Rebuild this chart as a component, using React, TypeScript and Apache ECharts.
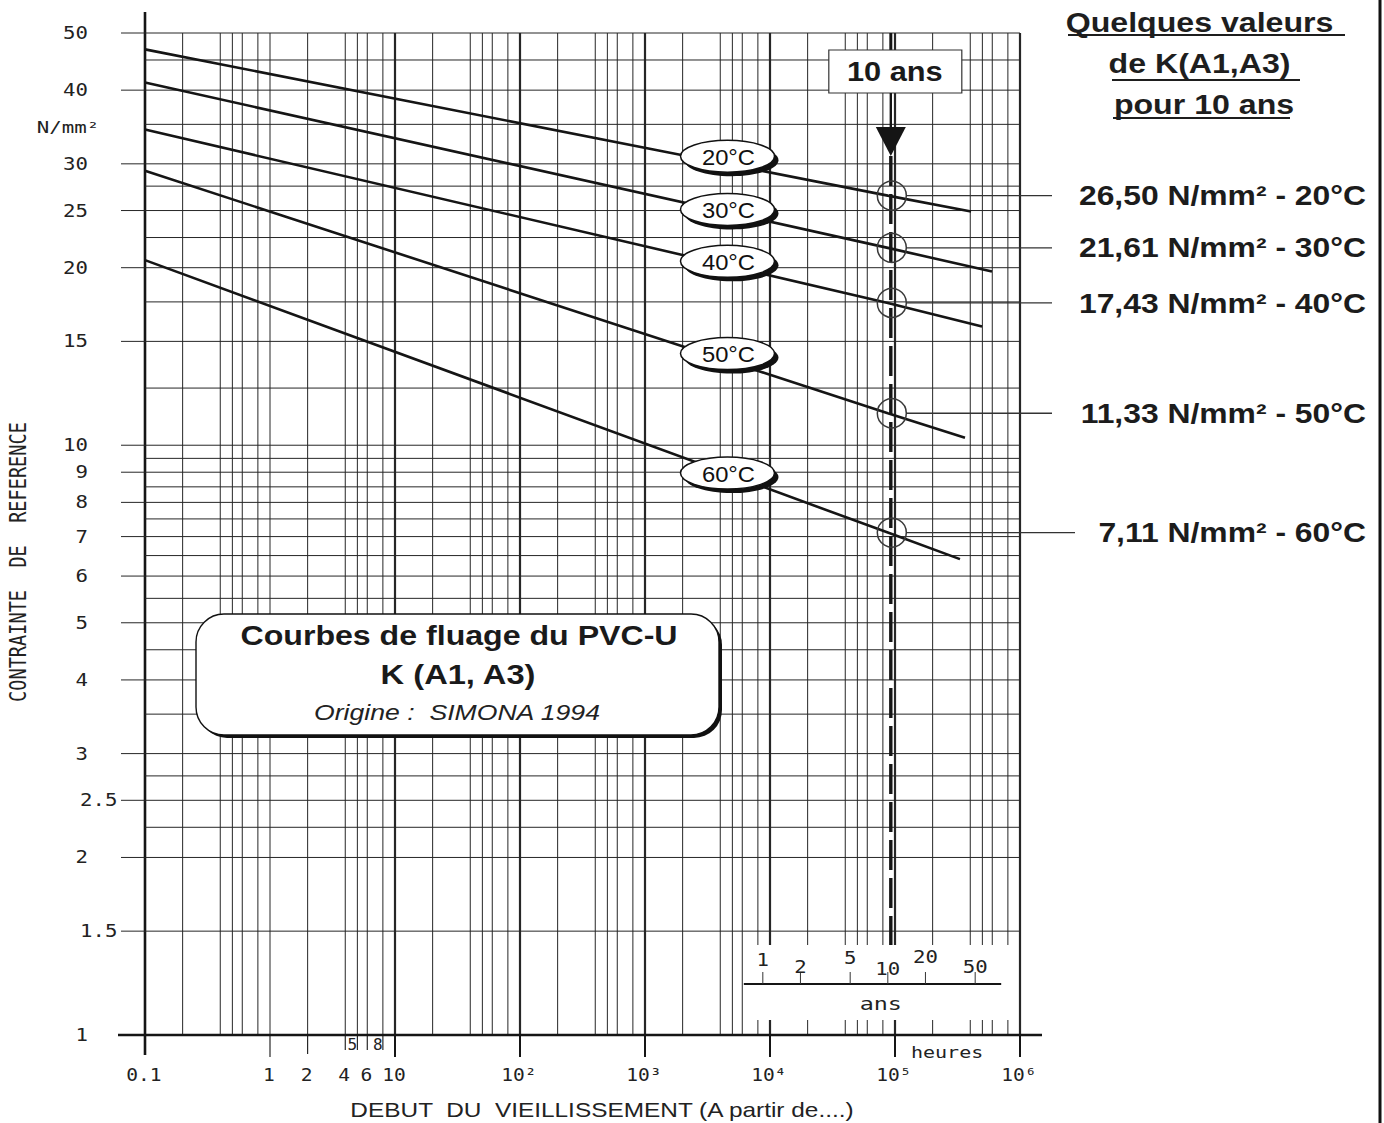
import React, { useEffect, useRef } from 'react';
import * as echarts from 'echarts';

// ---------------- Data ----------------
const xGrid = [0.1, 0.2, 0.4, 0.5, 0.6, 0.8, 1, 2, 4, 5, 6, 8, 10, 20, 40, 50, 60, 80, 100, 200, 400, 500, 600, 800, 1000, 2000, 4000, 5000, 6000, 8000, 10000, 20000, 40000, 50000, 60000, 80000, 100000, 200000, 400000, 500000, 600000, 800000, 1000000];
const xMajor = [10, 100, 1000, 10000, 100000, 1000000];
const xDecadeTicks = [0.1, 1, 10, 100, 1000, 10000, 100000, 1000000];
const xMidTicks = [2];
const xSmallTicks = [4, 5, 6, 8];
const xLabelValues = [0.1, 1, 2, 4, 6, 10, 100, 1000, 10000, 100000, 1000000];
const xLabelTexts = ['0.1', '1', '2', '4', '6', '10', '10²', '10³', '10⁴', '10⁵', '10⁶'];
const xBoxedValues = [5, 8];
const xBoxedTexts = ['5', '8'];

const yGrid = [1, 1.5, 2, 2.25, 2.5, 2.75, 3, 3.5, 4, 4.5, 5, 5.5, 6, 6.5, 7, 7.5, 8, 8.5, 9, 9.5, 10, 12.5, 15, 17.5, 20, 22.5, 25, 27.5, 30, 35, 40, 45, 50];
const yLabelValues = [1, 1.5, 2, 2.5, 3, 4, 5, 6, 7, 8, 9, 10, 15, 20, 25, 30, 40, 50];
const yLabelTexts = ['1', '1.5', '2', '2.5', '3', '4', '5', '6', '7', '8', '9', '10', '15', '20', '25', '30', '40', '50'];

const temperatures = ['20°C', '30°C', '40°C', '50°C', '60°C'];
const curve20 = [[0.1, 46.9], [87600, 26.5], [406000, 24.9]];
const curve30 = [[0.1, 41.2], [87600, 21.61], [597000, 19.7]];
const curve40 = [[0.1, 34.3], [87600, 17.43], [497000, 15.9]];
const curve50 = [[0.1, 29.2], [87600, 11.33], [363000, 10.3]];
const curve60 = [[0.1, 20.6], [87600, 7.11], [331000, 6.41]];
const curves = [curve20, curve30, curve40, curve50, curve60];

const labelTime = 4570;
const labelStress = [30.9, 25.1, 20.5, 14.3, 8.97];

const tenYearsHours = 87600;
const kValues = [26.5, 21.61, 17.43, 11.33, 7.11];
const kTexts = ['26,50 N/mm² - 20°C', '21,61 N/mm² - 30°C', '17,43 N/mm² - 40°C', '11,33 N/mm² - 50°C', '7,11 N/mm² - 60°C'];

const yearTicks = [1, 2, 5, 10, 20, 50];
const yearTexts = ['1', '2', '5', '10', '20', '50'];
const HOURS_PER_YEAR = 8760;

// ---------------- Layout / style constants ----------------
const INK = '#151515';
const MONO = '"DejaVu Sans Mono", "Liberation Mono", monospace';
const SANS = '"Liberation Sans", Arial, sans-serif';
const STRETCH = 1.19;
const yearLabelDy = [-24, -17, -26, -15, -27, -17];
const leaderEnd = [1052, 1052, 1052, 1052, 1075];

export default function App() {
  const ref = useRef<HTMLDivElement>(null);
  useEffect(() => {
    if (!ref.current) return;
    const chart = echarts.init(ref.current, undefined, { renderer: 'svg' });

    const verticalGrid = {
      type: 'custom', z: 1, silent: true, clip: false,
      data: xGrid.map((v) => [v, 1]),
      renderItem: (params: any, api: any) => {
        const t = api.value(0);
        const b = api.coord([t, 1]);
        const tp = api.coord([t, 50]);
        const children: any[] = [];
        if (t === 0.1) {
          children.push({ type: 'line', shape: { x1: b[0], y1: tp[1] - 21, x2: b[0], y2: b[1] + 20 }, style: { stroke: INK, lineWidth: 2.6 } });
        } else {
          const major = xMajor.indexOf(t) >= 0;
          children.push({ type: 'line', shape: { x1: b[0], y1: b[1], x2: b[0], y2: tp[1] }, style: { stroke: '#262626', lineWidth: major ? 2.2 : 1 } });
          let len = 0;
          if (xDecadeTicks.indexOf(t) >= 0) len = 22;
          else if (xMidTicks.indexOf(t) >= 0) len = 19;
          else if (xSmallTicks.indexOf(t) >= 0) len = 15;
          if (len) children.push({ type: 'line', shape: { x1: b[0], y1: b[1], x2: b[0], y2: b[1] + len }, style: { stroke: INK, lineWidth: major ? 2 : 1.1 } });
        }
        return { type: 'group', children };
      },
    };

    const horizontalGrid = {
      type: 'custom', z: 1, silent: true, clip: false,
      data: yGrid.map((v) => [0.1, v]),
      renderItem: (params: any, api: any) => {
        const v = api.value(1);
        const l = api.coord([0.1, v]);
        const r = api.coord([1000000, v]);
        const li = yLabelValues.indexOf(v);
        const children: any[] = [];
        if (v === 1) {
          children.push({ type: 'line', shape: { x1: l[0] - 27, y1: l[1], x2: r[0] + 22, y2: l[1] }, style: { stroke: INK, lineWidth: 2.6 } });
        } else {
          children.push({ type: 'line', shape: { x1: li >= 0 ? l[0] - 24 : l[0], y1: l[1], x2: r[0], y2: l[1] }, style: { stroke: '#262626', lineWidth: 1 } });
        }
        if (li >= 0) {
          const txt = yLabelTexts[li];
          const dec = txt.indexOf('.') >= 0;
          children.push({
            type: 'text', x: dec ? l[0] - 65 : l[0] - 57, y: l[1], scaleX: 1.15,
            style: { text: txt, fill: '#222', fontFamily: MONO, fontSize: 18, align: dec ? 'left' : 'right', verticalAlign: 'middle' },
          });
        }
        return { type: 'group', children };
      },
    };

    const xLabels = {
      type: 'custom', z: 2, silent: true, clip: false,
      data: xLabelValues.map((v) => [v, 1]),
      renderItem: (params: any, api: any) => {
        const p = api.coord([api.value(0), 1]);
        const txt = xLabelTexts[params.dataIndex];
        return {
          type: 'text', x: p[0] - 1, y: p[1] + 40, scaleX: 1.15,
          style: { text: txt, fill: '#222', fontFamily: MONO, fontSize: 17, align: 'center', verticalAlign: 'middle' },
        };
      },
    };

    const xBoxed = {
      type: 'custom', z: 2, silent: true, clip: false,
      data: xBoxedValues.map((v) => [v, 1]),
      renderItem: (params: any, api: any) => {
        const p = api.coord([api.value(0), 1]);
        return {
          type: 'text', x: p[0] - 5, y: p[1] + 9,
          style: { text: xBoxedTexts[params.dataIndex], fill: '#222', fontFamily: MONO, fontSize: 16, align: 'center', verticalAlign: 'middle' },
        };
      },
    };

    const curveSeries = curves.map((c, i) => ({
      type: 'line', name: temperatures[i], z: 3, silent: true, symbol: 'none',
      data: c, lineStyle: { color: INK, width: 2.6 },
    }));

    const pills = {
      type: 'custom', z: 5, silent: true, clip: false,
      data: labelStress.map((s) => [labelTime, s]),
      renderItem: (params: any, api: any) => {
        const p = api.coord([api.value(0), api.value(1)]);
        return {
          type: 'group',
          children: [
            { type: 'ellipse', shape: { cx: p[0] + 4, cy: p[1] + 4, rx: 47, ry: 16 }, style: { fill: '#111' } },
            { type: 'ellipse', shape: { cx: p[0], cy: p[1], rx: 47, ry: 16 }, style: { fill: '#fff', stroke: '#111', lineWidth: 1.5 } },
            { type: 'text', x: p[0] + 1, y: p[1] + 1, scaleX: 1.08, style: { text: temperatures[params.dataIndex], fill: '#111', fontFamily: SANS, fontSize: 22, align: 'center', verticalAlign: 'middle' } },
          ],
        };
      },
    };

    const tenYearMarker = {
      type: 'custom', z: 4, silent: true, clip: false,
      data: [[tenYearsHours, 50]],
      renderItem: (params: any, api: any) => {
        const top = api.coord([api.value(0), 50]);
        const bot = api.coord([api.value(0), 1]);
        const x = top[0] + 3;
        const boxTop = top[1] + 17;
        const boxBot = top[1] + 60;
        const triTop = top[1] + 94;
        const triTip = top[1] + 123;
        return {
          type: 'group',
          children: [
            { type: 'line', shape: { x1: x, y1: top[1], x2: x, y2: boxTop }, style: { stroke: INK, lineWidth: 3 } },
            { type: 'rect', shape: { x: x - 62, y: boxTop, width: 133, height: 43 }, style: { fill: '#fff', stroke: '#333', lineWidth: 1.2 } },
            { type: 'text', x: x + 4, y: boxTop + 22, scaleX: 1.14, style: { text: '10 ans', fill: '#1a1a1a', fontFamily: SANS, fontWeight: 'bold', fontSize: 27, align: 'center', verticalAlign: 'middle' } },
            { type: 'line', shape: { x1: x, y1: boxBot, x2: x, y2: triTop }, style: { stroke: INK, lineWidth: 2.4 } },
            { type: 'polygon', shape: { points: [[x - 15, triTop], [x + 15, triTop], [x, triTip]] }, style: { fill: INK } },
            { type: 'line', shape: { x1: x, y1: triTip, x2: x, y2: bot[1] - 90 }, style: { stroke: INK, lineWidth: 3.4, lineDash: [30, 8] } },
          ],
        };
      },
    };

    const kMarks = {
      type: 'custom', z: 6, silent: true, clip: false,
      data: kValues.map((v) => [tenYearsHours, v]),
      renderItem: (params: any, api: any) => {
        const p = api.coord([api.value(0), api.value(1)]);
        const cx = p[0] + 4;
        const i = params.dataIndex;
        return {
          type: 'group',
          children: [
            { type: 'circle', shape: { cx, cy: p[1], r: 14.5 }, style: { fill: 'none', stroke: '#3a3a3a', lineWidth: 1.5 } },
            { type: 'line', shape: { x1: cx + 14.5, y1: p[1], x2: leaderEnd[i], y2: p[1] }, style: { stroke: '#333', lineWidth: 1.3 } },
            { type: 'text', x: 1366, y: p[1], scaleX: 1.18, style: { text: kTexts[i], fill: '#1c1c1c', fontFamily: SANS, fontWeight: 'bold', fontSize: 27, align: 'right', verticalAlign: 'middle' } },
          ],
        };
      },
    };

    const yearScale = {
      type: 'custom', z: 7, silent: true, clip: false,
      data: yearTicks.map((y) => [y * HOURS_PER_YEAR, 1]),
      renderItem: (params: any, api: any) => {
        const p = api.coord([api.value(0), 1]);
        const i = params.dataIndex;
        const baseY = p[1] - 51;
        const children: any[] = [];
        if (i === 0) {
          const first = api.coord([yearTicks[0] * HOURS_PER_YEAR, 1]);
          const last = api.coord([yearTicks[yearTicks.length - 1] * HOURS_PER_YEAR, 1]);
          const g8 = api.coord([800000, 1]);
          const ten = api.coord([10 * HOURS_PER_YEAR, 1]);
          const h5 = api.coord([100000, 1]);
          children.push({ type: 'rect', shape: { x: first[0] - 6, y: p[1] - 90, width: g8[0] + 5 - (first[0] - 6), height: 75 }, style: { fill: '#fff' } });
          children.push({ type: 'line', shape: { x1: first[0] - 19, y1: baseY, x2: last[0] + 26, y2: baseY }, style: { stroke: INK, lineWidth: 2 } });
          children.push({ type: 'text', x: ten[0] - 7, y: baseY + 20, scaleX: 1.3, style: { text: 'ans', fill: '#222', fontFamily: MONO, fontSize: 18, align: 'center', verticalAlign: 'middle' } });
          children.push({ type: 'text', x: h5[0] + 16, y: p[1] + 17, scaleX: 1.25, style: { text: 'heures', fill: '#222', fontFamily: MONO, fontSize: 16, align: 'left', verticalAlign: 'middle' } });
        }
        children.push({ type: 'line', shape: { x1: p[0], y1: baseY, x2: p[0], y2: baseY - 12 }, style: { stroke: '#333', lineWidth: 1 } });
        children.push({ type: 'text', x: p[0], y: baseY + yearLabelDy[i], scaleX: 1.15, style: { text: yearTexts[i], fill: '#222', fontFamily: MONO, fontSize: 18, align: 'center', verticalAlign: 'middle' } });
        return { type: 'group', children };
      },
    };

    const headerLines = ['Quelques valeurs ', 'de K(A1,A3) ', 'pour 10 ans'];
    const headerY = [22, 63, 104];
    const underline = [[1068, 1345, 35], [1112, 1300, 80], [1113, 1290, 118]];

    const graphic: any[] = [
      // title box
      { type: 'rect', z: 50, shape: { x: 199, y: 617, width: 523, height: 121, r: 28 }, style: { fill: '#111' } },
      { type: 'rect', z: 51, shape: { x: 196, y: 614, width: 523, height: 121, r: 28 }, style: { fill: '#fff', stroke: '#111', lineWidth: 1.4 } },
      { type: 'text', z: 52, x: 459, y: 635, scaleX: STRETCH, style: { text: 'Courbes de fluage du PVC-U', fill: '#1a1a1a', fontFamily: SANS, fontWeight: 'bold', fontSize: 27, align: 'center', verticalAlign: 'middle' } },
      { type: 'text', z: 52, x: 458, y: 675, scaleX: 1.21, style: { text: 'K (A1, A3)', fill: '#1a1a1a', fontFamily: SANS, fontWeight: 'bold', fontSize: 27, align: 'center', verticalAlign: 'middle' } },
      { type: 'text', z: 52, x: 457, y: 712, scaleX: 1.21, style: { text: 'Origine :  SIMONA 1994', fill: '#222', fontFamily: SANS, fontStyle: 'italic', fontSize: 22, align: 'center', verticalAlign: 'middle' } },
      // unit
      { type: 'text', z: 52, x: 68, y: 127, scaleX: 1.3, style: { text: 'N/mm²', fill: '#222', fontFamily: MONO, fontSize: 16, align: 'center', verticalAlign: 'middle' } },
      // axis titles
      { type: 'text', z: 52, x: 18, y: 562, rotation: Math.PI / 2, scaleY: 1.2, style: { text: 'CONTRAINTE  DE  REFERENCE', fill: '#222', fontFamily: MONO, fontSize: 18.6, align: 'center', verticalAlign: 'middle' } },
      { type: 'text', z: 52, x: 602, y: 1110, scaleX: 1.22, style: { text: 'DEBUT  DU  VIEILLISSEMENT (A partir de....)', fill: '#222', fontFamily: SANS, fontSize: 20, align: 'center', verticalAlign: 'middle' } },
      // page border
      { type: 'line', z: 52, shape: { x1: 1380, y1: 0, x2: 1380, y2: 1123 }, style: { stroke: '#111', lineWidth: 3 } },
    ];
    headerLines.forEach((t, i) => {
      graphic.push({ type: 'text', z: 52, x: 1204, y: headerY[i], scaleX: STRETCH, style: { text: t, fill: '#1e1e1e', fontFamily: SANS, fontWeight: 'bold', fontSize: 27, align: 'center', verticalAlign: 'middle' } });
      graphic.push({ type: 'line', z: 52, shape: { x1: underline[i][0], y1: underline[i][2], x2: underline[i][1], y2: underline[i][2] }, style: { stroke: '#1e1e1e', lineWidth: 2 } });
    });

    chart.setOption({
      animation: false,
      backgroundColor: '#fff',
      grid: { left: 145, top: 33, width: 875, height: 1002 },
      xAxis: { type: 'log', logBase: 10, min: 0.1, max: 1000000, show: false },
      yAxis: { type: 'log', logBase: 10, min: 1, max: 50, show: false },
      series: [verticalGrid, horizontalGrid, xLabels, xBoxed, ...curveSeries, tenYearMarker, pills, kMarks, yearScale],
      graphic,
    });
    return () => chart.dispose();
  }, []);
  return <div ref={ref} style={{ position: 'absolute', left: 0, top: 0, width: 1384, height: 1123, background: '#fff' }} />;
}
